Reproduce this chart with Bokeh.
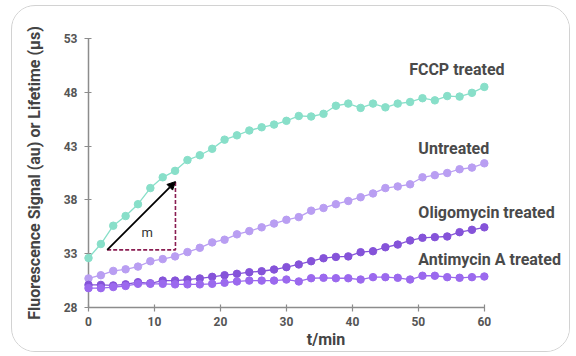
from bokeh.plotting import figure
from bokeh.models import Range1d, Arrow, NormalHead, Label
from bokeh.embed import file_html
from bokeh.resources import INLINE

# ---- data ----
time_min = [0, 1.875, 3.75, 5.625, 7.5, 9.375, 11.25, 13.125, 15, 16.875, 18.75,
            20.625, 22.5, 24.375, 26.25, 28.125, 30, 31.875, 33.75, 35.625, 37.5,
            39.375, 41.25, 43.125, 45, 46.875, 48.75, 50.625, 52.5, 54.375, 56.25,
            58.125, 60]

fccp = [32.6, 33.9, 35.6, 36.5, 37.6, 39.1, 40.1, 40.7, 41.7, 42.15, 42.75, 43.6,
        44.0, 44.45, 44.75, 45.0, 45.35, 45.8, 45.75, 46.0, 46.75, 46.95, 46.55,
        46.95, 46.6, 46.95, 47.1, 47.45, 47.25, 47.65, 47.6, 47.95, 48.5]

untreated = [30.7, 31.0, 31.4, 31.55, 31.8, 32.3, 32.5, 32.75, 33.15, 33.55, 34.05,
             34.3, 34.8, 35.1, 35.45, 35.8, 36.15, 36.4, 37.0, 37.25, 37.6, 37.9,
             38.25, 38.6, 39.1, 39.25, 39.45, 40.1, 40.3, 40.5, 40.85, 41.0, 41.4]

oligomycin = [30.1, 30.1, 30.05, 30.15, 30.35, 30.25, 30.5, 30.5, 30.6, 30.7, 30.85,
              31.0, 31.13, 31.28, 31.37, 31.53, 31.75, 32.0, 32.3, 32.58, 32.7, 32.75,
              33.14, 33.23, 33.6, 33.85, 34.23, 34.48, 34.54, 34.6, 35.0, 35.22, 35.45]

antimycin = [29.8, 29.8, 29.9, 30.0, 30.2, 30.2, 30.2, 30.15, 30.15, 30.15, 30.2,
             30.3, 30.42, 30.5, 30.5, 30.5, 30.6, 30.42, 30.72, 30.76, 30.72, 30.72,
             30.6, 30.82, 30.82, 30.76, 30.6, 30.95, 30.95, 30.82, 30.76, 30.82, 30.88]

series_names = ["FCCP treated", "Untreated", "Oligomycin treated", "Antimycin A treated"]
series_colors = ["#88dfc9", "#b99ef2", "#8553d9", "#9b69ee"]

x_ticks = [0, 10, 20, 30, 40, 50, 60]
y_ticks = [28, 33, 38, 43, 48, 53]

# label anchor positions (data units)
label_x = [48.6, 50.0, 50.0, 50.0]
label_y = [50.1, 42.75, 36.86, 32.43]

# slope annotation (data units)
slope_start = (2.83, 33.36)
slope_end = (13.18, 39.7)
slope_label = "m"
slope_label_pos = (8.9, 35.0)

# ---- figure ----
p = figure(width=559, height=347, x_range=Range1d(0, 72), y_range=Range1d(28, 53),
           output_backend="svg", toolbar_location=None,
           min_border_left=76, min_border_right=8, min_border_top=32, min_border_bottom=46)
p.grid.visible = False
p.outline_line_color = None
p.background_fill_color = "white"
p.border_fill_color = "white"
p.styles = {"margin-left": "11px", "margin-top": "5px",
            "border": "1px solid #d2d2d2", "border-radius": "24px", "overflow": "hidden"}

for ax in (p.xaxis, p.yaxis):
    ax.axis_line_color = "#8c8c8c"
    ax.axis_line_width = 1.5
    ax.major_tick_line_color = "#8c8c8c"
    ax.major_tick_line_width = 1.2
    ax.major_tick_in = 3
    ax.major_tick_out = 4
    ax.minor_tick_line_color = None
    ax.major_label_text_font = "Roboto"
    ax.major_label_text_font_style = "bold"
    ax.major_label_text_font_size = "12px"
    ax.major_label_text_color = "#555555"
    ax.axis_label_text_font = "Roboto"
    ax.axis_label_text_font_style = "bold"
    ax.axis_label_text_font_size = "16px"
    ax.axis_label_text_color = "#444444"

p.xaxis.ticker = x_ticks
p.yaxis.ticker = y_ticks
p.xaxis.bounds = (0, 60)
p.xaxis.axis_label = "t/min"
p.yaxis.axis_label = "Fluorescence Signal (au) or Lifetime (µs)"
p.xaxis.major_label_standoff = 5
p.xaxis.axis_label_standoff = 1
p.yaxis.major_label_standoff = 7
p.yaxis.axis_label_standoff = 17

for vals, col in zip([fccp, untreated, oligomycin, antimycin], series_colors):
    p.line(time_min, vals, line_color=col, line_width=1.3, level="overlay")
    p.scatter(time_min, vals, size=7.5, fill_color=col, line_color=col, level="overlay")

for name, lx, ly in zip(series_names, label_x, label_y):
    p.add_layout(Label(x=lx, y=ly, text=name, text_font="Roboto", text_font_style="bold",
                       text_font_size="16px", text_color="#4a4a4a", level="overlay",
                       text_baseline="middle", text_align="left"))

# slope triangle
p.line([slope_start[0], slope_end[0], slope_end[0]],
       [slope_start[1], slope_start[1], slope_end[1]],
       line_color="#8a1d52", line_width=1.6, line_dash="4 2")
p.add_layout(Arrow(end=NormalHead(size=8, fill_color="black", line_color="black"),
                   x_start=slope_start[0], y_start=slope_start[1],
                   x_end=slope_end[0], y_end=slope_end[1],
                   line_color="black", line_width=1.8))
p.add_layout(Label(x=slope_label_pos[0], y=slope_label_pos[1], text=slope_label,
                   text_font="Roboto", text_font_size="13px", text_color="#333333",
                   text_align="center", text_baseline="middle"))

open("out.html", "w").write(file_html(p, INLINE))
